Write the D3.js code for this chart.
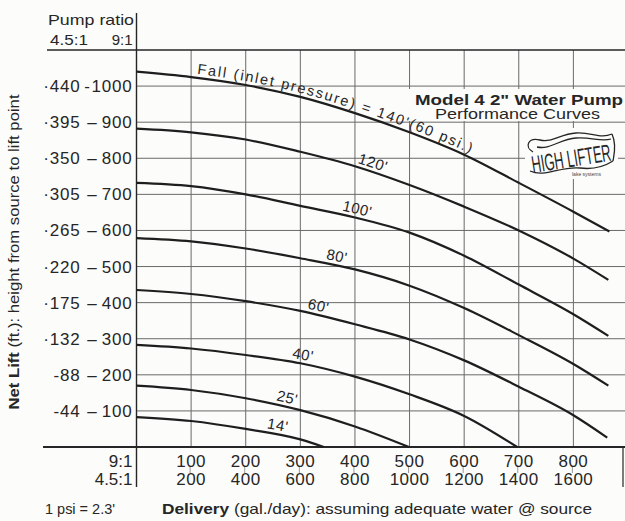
<!DOCTYPE html>
<html><head><meta charset="utf-8">
<script src="https://cdn.jsdelivr.net/npm/d3@7"></script>
<style>
body{margin:0;background:#fcfcfb;}
svg{display:block;font-family:"Liberation Sans",Arial,Helvetica,sans-serif;}
</style>
</head><body>
<svg id="c" width="625" height="521"></svg>
<script>
// ---------- data ----------
// delivery (gal/day at 9:1) vs net lift (ft at 9:1), one array per fall (inlet pressure)
const fall140 = [[0,1040],[100,1025],[200,1003],[300,970],[400,925],[500,872],[600,810],[700,732],[800,652],[866,597]];
const fall120 = [[0,882],[100,872],[200,852],[300,818],[400,778],[500,726],[600,666],[700,600],[800,522],[864,463]];
const fall100 = [[0,732],[100,723],[200,700],[300,668],[400,636],[500,594],[600,530],[700,450],[800,368],[864,308]];
const fall80  = [[0,579],[100,570],[200,550],[300,523],[400,492],[500,447],[600,385],[700,310],[800,230],[864,170]];
const fall60  = [[0,435],[100,424],[200,404],[300,377],[400,340],[500,298],[600,240],[700,167],[800,88],[862,26]];
const fall40  = [[0,283],[100,273],[200,255],[300,232],[400,195],[500,146],[600,86],[697,0]];
const fall25  = [[0,170],[100,158],[200,135],[300,102],[400,57],[499,0]];
const fall14  = [[0,83],[100,72],[200,50],[300,21],[343,0]];

const seriesNames = ["140'","120'","100'","80'","60'","40'","25'","14'"];
const labelAtDelivery = [null,430,402,365,331,303,274,257];

const deliveryTicks9 = [100,200,300,400,500,600,700,800];
const deliveryTicks45 = ["200","400","600","800","1000","1200","1400","1600"];
const liftTicks9 = [1000,900,800,700,600,500,400,300,200,100];
const liftTicks45 = ["440","395","350","305","265","220","175","132","88","44"];

const series = [fall140,fall120,fall100,fall80,fall60,fall40,fall25,fall14];

// ---------- drawing ----------
const svg = d3.select("#c");
const x = d3.scaleLinear().domain([0,900]).range([136.5,628]);
const y = d3.scaleLinear().domain([0,1100]).range([447,50]);
const INK = "#262626", GRID = "#6a6a6a";

// grid
const g = svg.append("g");
g.selectAll("line.h").data(liftTicks9).join("line")
  .attr("x1",x(0)).attr("x2",625).attr("y1",d=>y(d)).attr("y2",d=>y(d))
  .attr("stroke",GRID).attr("stroke-width",1);
g.selectAll("line.v").data(deliveryTicks9).join("line")
  .attr("x1",d=>x(d)).attr("x2",d=>x(d)).attr("y1",y(1100)).attr("y2",y(0))
  .attr("stroke",GRID).attr("stroke-width",1);
// top line
g.append("line").attr("x1",47).attr("x2",625).attr("y1",y(1100)).attr("y2",y(1100))
  .attr("stroke",INK).attr("stroke-width",1.6);
// axis lines
g.append("line").attr("x1",x(0)).attr("x2",x(0)).attr("y1",13).attr("y2",487)
  .attr("stroke",INK).attr("stroke-width",1.4);
g.append("line").attr("x1",43).attr("x2",625).attr("y1",y(0)).attr("y2",y(0))
  .attr("stroke",INK).attr("stroke-width",1.8);
g.append("line").attr("x1",623).attr("x2",623).attr("y1",y(0)).attr("y2",487)
  .attr("stroke",INK).attr("stroke-width",1.2);
// small ticks between delivery rows
g.selectAll("line.t").data(deliveryTicks9).join("line")
  .attr("x1",d=>x(d)-1).attr("x2",d=>x(d)-1).attr("y1",467).attr("y2",473)
  .attr("stroke","#999").attr("stroke-width",1);

// title backdrop + title
svg.append("rect").attr("x",409).attr("y",89).attr("width",216).attr("height",32).attr("fill","#fcfcfb");
svg.append("text").attr("x",519).attr("y",104.5).attr("text-anchor","middle")
  .attr("font-size",15).attr("font-weight","bold").attr("fill",INK)
  .attr("textLength",208).attr("lengthAdjust","spacingAndGlyphs")
  .text("Model 4  2\" Water Pump");
svg.append("text").attr("x",517.5).attr("y",119).attr("text-anchor","middle")
  .attr("font-size",15).attr("fill",INK)
  .attr("textLength",165).attr("lengthAdjust","spacingAndGlyphs")
  .text("Performance Curves");

// logo
const lg = svg.append("g");
lg.append("rect").attr("x",525).attr("y",128).attr("width",93).attr("height",51).attr("fill","#fcfcfb");
lg.append("path").attr("fill","none").attr("stroke",INK).attr("stroke-width",1.3)
  .attr("d","M533,152 C524,147 528,137 540,140 C552,143 560,134 576,133 C592,132 600,139 612,134 M537,147 C550,150 560,139 576,138 C592,137 601,142 611,139 M612,134 C617,145 614,155 613,161 M530,171 C545,178 560,166 580,168 C595,170 605,166 613,161");
lg.append("text").attr("transform","translate(533,173) rotate(-9)")
  .attr("font-size",24).attr("fill",INK).attr("textLength",80).attr("lengthAdjust","spacingAndGlyphs")
  .text("HIGH LIFTER");
lg.append("text").attr("x",572).attr("y",176).attr("font-size",5).attr("fill","#444").text("lake systems");

// curves
const line = d3.line().x(d=>x(d[0])).y(d=>y(d[1])).curve(d3.curveMonotoneX);
const lineUp = d3.line().x(d=>x(d[0])).y(d=>y(d[1])-4).curve(d3.curveMonotoneX);
svg.append("g").selectAll("path").data(series).join("path")
  .attr("d",line).attr("fill","none").attr("stroke","#1e1e1e").attr("stroke-width",2.2);

const guides = svg.append("g").selectAll("path").data(series).join("path")
  .attr("id",(d,i)=>"gp"+i).attr("d",lineUp).attr("fill","none").attr("stroke","none");

function lengthAtX(node, tx){
  let lo=0, hi=node.getTotalLength();
  for(let k=0;k<40;k++){const m=(lo+hi)/2; if(node.getPointAtLength(m).x<tx) lo=m; else hi=m;}
  return lo;
}

// main fall label on 140 curve
{
  const node = d3.select("#gp0").node();
  const a = lengthAtX(node, 197), b = lengthAtX(node, 470);
  svg.append("text").attr("font-size",14.5).attr("fill",INK)
    .append("textPath").attr("href","#gp0").attr("startOffset",a)
    .attr("textLength",b-a).attr("lengthAdjust","spacing")
    .text("Fall (inlet pressure) = "+seriesNames[0]+"(60 psi.)");
}
// other curve labels
series.forEach((s,i)=>{
  if(i===0) return;
  const node = d3.select("#gp"+i).node();
  const off = lengthAtX(node, x(labelAtDelivery[i]));
  svg.append("text").attr("font-size",15).attr("fill",INK).attr("text-anchor","middle")
    .attr("letter-spacing",0.4)
    .append("textPath").attr("href","#gp"+i).attr("startOffset",off).text(seriesNames[i]);
});

// header
svg.append("text").attr("x",48).attr("y",25).attr("font-size",15).attr("fill",INK)
  .attr("textLength",86).attr("lengthAdjust","spacingAndGlyphs").text("Pump ratio");
svg.append("text").attr("x",50).attr("y",45).attr("font-size",15).attr("fill",INK)
  .attr("textLength",38).attr("lengthAdjust","spacingAndGlyphs").text("4.5:1");
svg.append("text").attr("x",132.5).attr("y",45).attr("font-size",15).attr("fill",INK)
  .attr("text-anchor","end").text("9:1");

// lift tick labels
const yt = svg.append("g").attr("font-size",17).attr("fill",INK);
liftTicks9.forEach((v,i)=>{
  const yy = y(v)+6;
  const pre = +liftTicks45[i] < 100 ? "-" : "\u00B7";
  yt.append("text").attr("x",80.5).attr("y",yy).attr("text-anchor","end").attr("letter-spacing",0.8)
    .text(pre+liftTicks45[i]);
  yt.append("text").attr("x",v===1000?87:92).attr("y",yy).attr("text-anchor","middle")
    .text(v===1000?"-":"\u2013");
  yt.append("text").attr("x",132.5).attr("y",yy).attr("text-anchor","end").attr("letter-spacing",0.8)
    .text(v);
});

// delivery tick labels
const xt = svg.append("g").attr("font-size",17).attr("fill",INK).attr("text-anchor","middle");
deliveryTicks9.forEach((v,i)=>{
  xt.append("text").attr("x",x(v)).attr("y",466.5).attr("letter-spacing",0.5).text(v);
  xt.append("text").attr("x",x(v)).attr("y",485).attr("letter-spacing",0.5).text(deliveryTicks45[i]);
});
xt.append("text").attr("x",132.5).attr("y",466.5).attr("text-anchor","end").text("9:1");
xt.append("text").attr("x",132.5).attr("y",485).attr("text-anchor","end").text("4.5:1");

// bottom notes
svg.append("text").attr("x",45).attr("y",513.5).attr("font-size",15).attr("fill",INK)
  .attr("textLength",70).attr("lengthAdjust","spacingAndGlyphs").text("1 psi = 2.3'");
const dl = svg.append("text").attr("x",162).attr("y",513.5).attr("font-size",15).attr("fill",INK)
  .attr("textLength",430).attr("lengthAdjust","spacingAndGlyphs");
dl.append("tspan").attr("font-weight","bold").text("Delivery");
dl.append("tspan").text(" (gal./day): assuming adequate water @ source");

// y axis title
const yl = svg.append("text").attr("transform","translate(19,252) rotate(-90)")
  .attr("text-anchor","middle").attr("font-size",15).attr("fill",INK)
  .attr("textLength",315).attr("lengthAdjust","spacingAndGlyphs");
yl.append("tspan").attr("font-weight","bold").text("Net Lift");
yl.append("tspan").text(" (ft.): height from source to lift point");
</script>
</body></html>
